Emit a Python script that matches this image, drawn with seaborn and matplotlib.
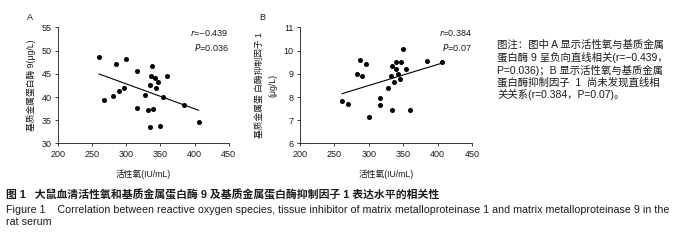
import numpy as np
import pandas as pd
import seaborn as sns
import matplotlib.pyplot as plt

# data
ros_a = [260, 299, 285, 338, 316, 336, 342, 360, 347, 334, 344, 296,
         290, 281, 268, 327, 353, 384, 316, 332, 339, 406, 334, 350]
mmp9 = [48.6, 48.3, 47.1, 46.7, 45.6, 44.6, 44.2, 44.6, 43.3, 42.5, 42.0, 42.0,
        41.3, 40.3, 39.4, 40.5, 40.0, 38.3, 37.7, 37.3, 37.4, 34.6, 33.6, 33.8]
ros_b = [261, 270, 287, 296, 283, 291, 300, 316, 316, 328, 332, 334,
         339, 339, 337, 343, 345, 347, 350, 354, 334, 360, 384, 407]
timp1 = [7.84, 7.70, 9.58, 9.41, 9.00, 8.89, 7.14, 7.97, 7.65, 8.41, 8.92, 9.33,
         9.53, 9.22, 8.64, 9.00, 8.77, 9.53, 10.09, 9.22, 7.45, 7.45, 9.56, 9.53]
x_ticks = [200, 250, 300, 350, 400, 450]
stats_a = ["\u22120.439", "0.036"]
stats_b = ["0.384", "0.07"]

df_a = pd.DataFrame({"ros": ros_a, "val": mmp9})
df_b = pd.DataFrame({"ros": ros_b, "val": timp1})

sns.set_style("ticks")
plt.rcParams["font.family"] = ["Liberation Sans", "Noto Sans CJK SC", "DejaVu Sans"]
ink = "#1a1a1a"

fig = plt.figure(figsize=(6.86, 2.41), dpi=100)
ax1 = fig.add_axes([0.0845, 0.405, 0.249, 0.481])
ax2 = fig.add_axes([0.437, 0.405, 0.251, 0.481])

for ax, d, ylim, yticks in [(ax1, df_a, (30, 55), range(30, 56, 5)),
                            (ax2, df_b, (6, 11), range(6, 12))]:
    sns.regplot(data=d, x="ros", y="val", ax=ax, ci=None, truncate=True,
                scatter_kws={"s": 13, "color": "black", "linewidths": 0, "alpha": 1},
                line_kws={"color": "black", "lw": 0.8})
    ax.set_xlim(200, 450)
    ax.set_ylim(*ylim)
    ax.set_xticks(x_ticks)
    ax.set_yticks(list(yticks))
    ax.tick_params(labelsize=6.5, length=2.5, width=0.6, pad=2, colors=ink)
    for s in ["left", "bottom"]:
        ax.spines[s].set_linewidth(0.6)
        ax.spines[s].set_color(ink)
    sns.despine(ax=ax)
    ax.set_xlabel("活性氧(IU/mL)", fontsize=6.3, color=ink, labelpad=8)

ax1.set_ylabel("基质金属蛋白酶 9(μg/L)", fontsize=6.3, color=ink, labelpad=4)
ax2.set_ylabel("基质金属蛋 白酶抑制因子 1\n(μg/L)", fontsize=6.3, color=ink, labelpad=4,
               linespacing=1.8)

for ax, st in [(ax1, stats_a), (ax2, stats_b)]:
    ax.text(1.0, 0.93, "$r$=" + st[0], transform=ax.transAxes, ha="right",
            fontsize=6.5, color=ink)
    ax.text(1.0, 0.80, "$P$=" + st[1], transform=ax.transAxes, ha="right",
            fontsize=6.5, color=ink)

fig.text(27 / 686, 1 - 18 / 241, "A", fontsize=6.5, color=ink, va="center")
fig.text(259 / 686, 1 - 17 / 241, "B", fontsize=6.5, color=ink, va="center")

note = ["图注：图中 A 显示活性氧与基质金属",
        "蛋白酶 9 呈负向直线相关(r=−0.439，",
        "P=0.036)；B 显示活性氧与基质金属",
        "蛋白酶抑制因子  1  尚未发现直线相",
        "关关系(r=0.384，P=0.07)。"]
for i, line in enumerate(note):
    fig.text(497 / 686, 1 - (45 + i * 12.5) / 241, line, fontsize=7.5,
             color=ink, va="center")

fig.text(6 / 686, 1 - 195 / 241,
         "图 1   大鼠血清活性氧和基质金属蛋白酶 9 及基质金属蛋白酶抑制因子 1 表达水平的相关性",
         fontsize=7.8, color=ink, va="center", fontweight="bold")
fig.text(6 / 686, 1 - 210 / 241,
         "Figure 1    Correlation between reactive oxygen species, tissue inhibitor of matrix "
         "metalloproteinase 1 and matrix metalloproteinase 9 in the",
         fontsize=7.7, color=ink, va="center")
fig.text(6 / 686, 1 - 222 / 241, "rat serum", fontsize=7.7, color=ink, va="center")

fig.savefig("out.png", dpi=100)
